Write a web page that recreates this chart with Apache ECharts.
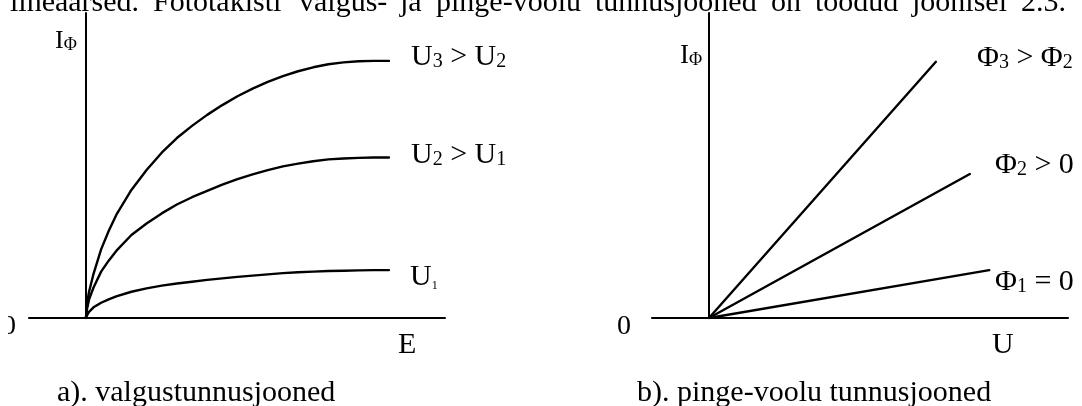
<!DOCTYPE html>
<html>
<head>
<meta charset="utf-8">
<script src="https://cdn.jsdelivr.net/npm/echarts@6/dist/echarts.min.js"></script>
<style>
  html, body { margin: 0; padding: 0; background: #fff; }
  #chart { width: 1082px; height: 406px; }
</style>
</head>
<body>
<div id="chart"></div>
<script>
// a) light characteristics: photocurrent I_Φ against illuminance E, one curve per voltage
const illuminanceE = [0, 0.03, 0.1, 0.25, 0.5, 0.75, 1.0, 1.5, 2.0, 2.5, 3.0, 3.5, 4.0, 4.5,
                      5.0, 5.5, 6.0, 6.5, 7.0, 7.5, 8.0, 8.5, 9.0, 9.5, 10.0];
const currentU3 = [0, 0.45, 0.85, 1.45, 2.25, 2.85, 3.38, 4.20, 4.85, 5.42, 5.90, 6.30, 6.66, 6.98,
                   7.27, 7.52, 7.74, 7.93, 8.09, 8.22, 8.32, 8.38, 8.42, 8.43, 8.43];
const currentU2 = [0, 0.27, 0.60, 1.00, 1.52, 1.88, 2.20, 2.72, 3.10, 3.43, 3.72, 3.96, 4.17, 4.37,
                   4.55, 4.71, 4.85, 4.97, 5.06, 5.14, 5.20, 5.23, 5.25, 5.26, 5.26];
const currentU1 = [0, 0.08, 0.20, 0.35, 0.50, 0.61, 0.71, 0.86, 0.97, 1.06, 1.13, 1.19, 1.25, 1.30,
                   1.35, 1.39, 1.43, 1.47, 1.50, 1.52, 1.54, 1.55, 1.56, 1.57, 1.57];

// b) current-voltage characteristics: straight lines from the origin, one per light flux
const voltagePhi3 = [0, 7.49], currentPhi3 = [0, 8.40];
const voltagePhi2 = [0, 8.61], currentPhi2 = [0, 4.72];
const voltagePhi1 = [0, 9.25], currentPhi1 = [0, 1.57];

// running text above the figure, word by word (justified line)
const headWords = ['lineaarsed.', 'Fototakisti', 'valgus-', 'ja', 'pinge-voolu', 'tunnusjooned',
                   'on', 'toodud', 'joonisel', '2.3.'];
const headWordX = [10, 153, 299, 400, 436, 595, 771, 815, 912, 1021];

const AXIS_MIN = -1.88, AXIS_MAX = 11.85, I_MAX = 10;
const SERIF = '"Liberation Serif", "Times New Roman", serif';
const INK = '#000';

const pairs = (xs, ys) => ys.map((y, i) => [xs[i], y]);

function axisPair(gridIndex) {
  const axisLine = { show: true, onZero: true, lineStyle: { color: INK, width: 2 } };
  const hidden = { axisTick: { show: false }, axisLabel: { show: false }, splitLine: { show: false } };
  return {
    x: Object.assign({ type: 'value', gridIndex, min: AXIS_MIN, max: AXIS_MAX, axisLine }, hidden),
    y: Object.assign({ type: 'value', gridIndex, min: 0, max: I_MAX, axisLine }, hidden)
  };
}
const axA = axisPair(0), axB = axisPair(1);

function curve(idx, data) {
  return {
    type: 'line', xAxisIndex: idx, yAxisIndex: idx, data,
    showSymbol: false, symbol: 'none', silent: true, smooth: false,
    lineStyle: { color: INK, width: 2.4, join: 'round', cap: 'round' }
  };
}

// rich-text label: main glyphs and subscripts sit on a common bottom line
function label(x, baseline, text, main, sub) {
  const m = main || 30, s = sub || 20;
  return {
    type: 'text', x, y: baseline + Math.round(m * 0.22), silent: true,
    style: {
      text, fill: INK, verticalAlign: 'bottom', align: 'left',
      rich: {
        m: { fontFamily: SERIF, fontSize: m, lineHeight: m, verticalAlign: 'bottom', fill: INK },
        s: { fontFamily: SERIF, fontSize: s, lineHeight: m, verticalAlign: 'bottom', fill: INK }
      }
    }
  };
}

const headLine = headWords.map((w, i) => label(headWordX[i], 11, '{m|' + w + '}'));

const chart = echarts.init(document.getElementById('chart'), null, { renderer: 'canvas' });
chart.setOption({
  backgroundColor: '#fff',
  animation: false,
  grid: [
    { left: 29, top: 13, width: 416, height: 305 },
    { left: 652, top: 13, width: 416, height: 305 }
  ],
  xAxis: [axA.x, axB.x],
  yAxis: [axA.y, axB.y],
  series: [
    curve(0, pairs(illuminanceE, currentU3)),
    curve(0, pairs(illuminanceE, currentU2)),
    curve(0, pairs(illuminanceE, currentU1)),
    curve(1, pairs(voltagePhi3, currentPhi3)),
    curve(1, pairs(voltagePhi2, currentPhi2)),
    curve(1, pairs(voltagePhi1, currentPhi1))
  ],
  graphic: headLine.concat([
    // panel a
    label(55, 48, '{m|I}{s|Φ}', 26, 18),
    label(411, 65, '{m|U}{s|3}{m| > U}{s|2}'),
    label(411, 163, '{m|U}{s|2}{m| > U}{s|1}'),
    label(410, 285, '{m|U}{s|1}', 30, 12),
    label(2, 335, '{m|0}', 28),
    // left page margin trims the origin label of panel a
    { type: 'rect', shape: { x: 0, y: 312, width: 8, height: 30 }, style: { fill: '#fff' }, silent: true },
    label(398, 353, '{m|E}'),
    label(57, 401, '{m|a). valgustunnusjooned}'),
    // panel b
    label(680, 63, '{m|I}{s|Φ}', 27, 18),
    label(977, 66, '{m|Φ}{s|3}{m| > Φ}{s|2}'),
    label(995, 173, '{m|Φ}{s|2}{m| > 0}'),
    label(995, 290, '{m|Φ}{s|1}{m| = 0}'),
    label(617, 335, '{m|0}', 28),
    label(992, 353, '{m|U}'),
    label(637, 401, '{m|b). pinge-voolu tunnusjooned}')
  ])
});
</script>
</body>
</html>
